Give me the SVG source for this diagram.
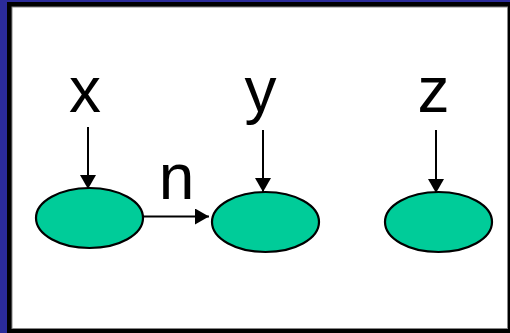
<svg xmlns="http://www.w3.org/2000/svg" width="510" height="333" viewBox="0 0 510 333">
<style>
.node{fill:#00CC99;stroke:#000;stroke-width:2.2}
.lbl{font-family:"Liberation Sans",Arial,sans-serif;font-size:64px;fill:#000;text-anchor:middle}
.edge{stroke:#000;stroke-width:2;fill:none;marker-end:url(#ah)}
</style>
<defs>
<marker id="ah" markerWidth="16" markerHeight="16" refX="14" refY="8" orient="auto" markerUnits="userSpaceOnUse">
<path d="M0,0 L14,8 L0,16 Z" fill="#000"/>
</marker>
</defs>
<rect x="0" y="0" width="510" height="333" fill="#2B2B9A"/>
<rect x="7" y="2" width="503" height="331" fill="#000"/>
<rect x="12" y="7" width="495.5" height="321.5" fill="#fff" stroke="#888" stroke-width="1"/>
<g id="label-x"><text class="lbl" x="85" y="112">x</text></g>
<g id="label-y"><text class="lbl" x="260.5" y="112">y</text></g>
<g id="label-z"><text class="lbl" x="433.5" y="112">z</text></g>
<g id="label-n"><text class="lbl" x="176.5" y="199">n</text></g>
<g id="node1"><ellipse class="node" cx="89.5" cy="218" rx="53.5" ry="30"/></g>
<g id="node2"><ellipse class="node" cx="265.5" cy="222" rx="53.5" ry="30"/></g>
<g id="node3"><ellipse class="node" cx="438.5" cy="222" rx="53.5" ry="30"/></g>
<g id="connectors">
<line class="edge" x1="88" y1="127" x2="88" y2="189"/>
<line class="edge" x1="263" y1="130" x2="263" y2="192"/>
<line class="edge" x1="436" y1="130" x2="436" y2="193"/>
<line class="edge" x1="143" y1="216.5" x2="209" y2="216.5"/>
</g>
</svg>
